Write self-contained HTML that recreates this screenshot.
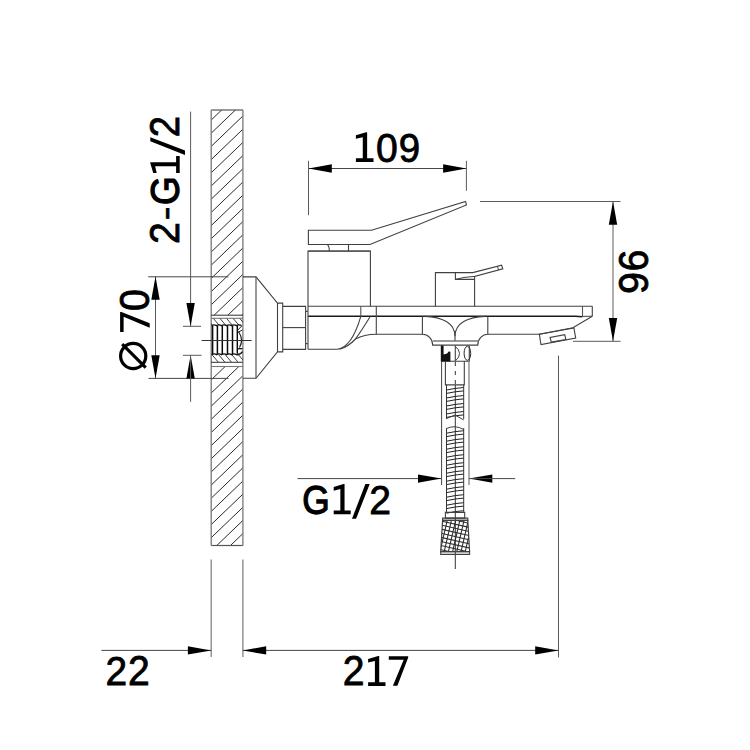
<!DOCTYPE html>
<html><head><meta charset="utf-8"><style>
html,body{margin:0;padding:0;background:#fff;}
svg{display:block;}
text{font-family:"Liberation Sans",sans-serif;fill:#000;}
</style></head><body>
<svg width="750" height="750" viewBox="0 0 750 750">
<rect width="750" height="750" fill="#fff"/>
<defs>
<clipPath id="wallTop"><rect x="211.2" y="110.0" width="31.700000000000017" height="205.2"/></clipPath>
<clipPath id="wallBot"><rect x="211.2" y="366.5" width="31.700000000000017" height="179.0"/></clipPath>
<clipPath id="bandA"><rect x="211.2" y="318.3" width="31.7" height="7.2"/></clipPath>
<clipPath id="bandB"><rect x="211.2" y="354.8" width="31.7" height="7.5"/></clipPath>
</defs>
<g clip-path="url(#wallTop)">
<line x1="211.2" y1="80.40" x2="244.9" y2="48.05" stroke="#2a2a2a" stroke-width="1"/>
<line x1="211.2" y1="93.60" x2="244.9" y2="61.25" stroke="#2a2a2a" stroke-width="1"/>
<line x1="211.2" y1="106.80" x2="244.9" y2="74.45" stroke="#2a2a2a" stroke-width="1"/>
<line x1="211.2" y1="120.00" x2="244.9" y2="87.65" stroke="#2a2a2a" stroke-width="1"/>
<line x1="211.2" y1="133.20" x2="244.9" y2="100.85" stroke="#2a2a2a" stroke-width="1"/>
<line x1="211.2" y1="146.40" x2="244.9" y2="114.05" stroke="#2a2a2a" stroke-width="1"/>
<line x1="211.2" y1="159.60" x2="244.9" y2="127.25" stroke="#2a2a2a" stroke-width="1"/>
<line x1="211.2" y1="172.80" x2="244.9" y2="140.45" stroke="#2a2a2a" stroke-width="1"/>
<line x1="211.2" y1="186.00" x2="244.9" y2="153.65" stroke="#2a2a2a" stroke-width="1"/>
<line x1="211.2" y1="199.20" x2="244.9" y2="166.85" stroke="#2a2a2a" stroke-width="1"/>
<line x1="211.2" y1="212.40" x2="244.9" y2="180.05" stroke="#2a2a2a" stroke-width="1"/>
<line x1="211.2" y1="225.60" x2="244.9" y2="193.25" stroke="#2a2a2a" stroke-width="1"/>
<line x1="211.2" y1="238.80" x2="244.9" y2="206.45" stroke="#2a2a2a" stroke-width="1"/>
<line x1="211.2" y1="252.00" x2="244.9" y2="219.65" stroke="#2a2a2a" stroke-width="1"/>
<line x1="211.2" y1="265.20" x2="244.9" y2="232.85" stroke="#2a2a2a" stroke-width="1"/>
<line x1="211.2" y1="278.40" x2="244.9" y2="246.05" stroke="#2a2a2a" stroke-width="1"/>
<line x1="211.2" y1="291.60" x2="244.9" y2="259.25" stroke="#2a2a2a" stroke-width="1"/>
<line x1="211.2" y1="304.80" x2="244.9" y2="272.45" stroke="#2a2a2a" stroke-width="1"/>
<line x1="211.2" y1="318.00" x2="244.9" y2="285.65" stroke="#2a2a2a" stroke-width="1"/>
<line x1="211.2" y1="331.20" x2="244.9" y2="298.85" stroke="#2a2a2a" stroke-width="1"/>
<line x1="211.2" y1="344.40" x2="244.9" y2="312.05" stroke="#2a2a2a" stroke-width="1"/>
</g>
<g clip-path="url(#wallBot)">
<line x1="211.2" y1="340.45" x2="244.9" y2="308.10" stroke="#2a2a2a" stroke-width="1"/>
<line x1="211.2" y1="353.60" x2="244.9" y2="321.25" stroke="#2a2a2a" stroke-width="1"/>
<line x1="211.2" y1="366.75" x2="244.9" y2="334.40" stroke="#2a2a2a" stroke-width="1"/>
<line x1="211.2" y1="379.90" x2="244.9" y2="347.55" stroke="#2a2a2a" stroke-width="1"/>
<line x1="211.2" y1="393.05" x2="244.9" y2="360.70" stroke="#2a2a2a" stroke-width="1"/>
<line x1="211.2" y1="406.20" x2="244.9" y2="373.85" stroke="#2a2a2a" stroke-width="1"/>
<line x1="211.2" y1="419.35" x2="244.9" y2="387.00" stroke="#2a2a2a" stroke-width="1"/>
<line x1="211.2" y1="432.50" x2="244.9" y2="400.15" stroke="#2a2a2a" stroke-width="1"/>
<line x1="211.2" y1="445.65" x2="244.9" y2="413.30" stroke="#2a2a2a" stroke-width="1"/>
<line x1="211.2" y1="458.80" x2="244.9" y2="426.45" stroke="#2a2a2a" stroke-width="1"/>
<line x1="211.2" y1="471.95" x2="244.9" y2="439.60" stroke="#2a2a2a" stroke-width="1"/>
<line x1="211.2" y1="485.10" x2="244.9" y2="452.75" stroke="#2a2a2a" stroke-width="1"/>
<line x1="211.2" y1="498.25" x2="244.9" y2="465.90" stroke="#2a2a2a" stroke-width="1"/>
<line x1="211.2" y1="511.40" x2="244.9" y2="479.05" stroke="#2a2a2a" stroke-width="1"/>
<line x1="211.2" y1="524.55" x2="244.9" y2="492.20" stroke="#2a2a2a" stroke-width="1"/>
<line x1="211.2" y1="537.70" x2="244.9" y2="505.35" stroke="#2a2a2a" stroke-width="1"/>
<line x1="211.2" y1="550.85" x2="244.9" y2="518.50" stroke="#2a2a2a" stroke-width="1"/>
<line x1="211.2" y1="564.00" x2="244.9" y2="531.65" stroke="#2a2a2a" stroke-width="1"/>
<line x1="211.2" y1="577.15" x2="244.9" y2="544.80" stroke="#2a2a2a" stroke-width="1"/>
</g>
<line x1="211.20" y1="110.00" x2="242.90" y2="110.00" stroke="#555" stroke-width="1.2" />
<line x1="211.20" y1="545.50" x2="242.90" y2="545.50" stroke="#555" stroke-width="1.2" />
<line x1="211.20" y1="110.00" x2="211.20" y2="545.50" stroke="#777" stroke-width="1.3" />
<line x1="242.90" y1="110.00" x2="242.90" y2="545.50" stroke="#777" stroke-width="1.3" />
<line x1="211.20" y1="315.20" x2="242.90" y2="315.20" stroke="#404040" stroke-width="1.1" />
<line x1="211.20" y1="318.30" x2="242.90" y2="318.30" stroke="#777" stroke-width="1.1" />
<line x1="211.20" y1="362.30" x2="242.90" y2="362.30" stroke="#404040" stroke-width="1.1" />
<line x1="211.20" y1="366.50" x2="242.90" y2="366.50" stroke="#777" stroke-width="1.1" />
<g clip-path="url(#bandA)">
<line x1="206.7" y1="318.3" x2="212.7" y2="325.5" stroke="#404040" stroke-width="1"/>
<line x1="213.3" y1="318.3" x2="219.3" y2="325.5" stroke="#404040" stroke-width="1"/>
<line x1="219.9" y1="318.3" x2="225.9" y2="325.5" stroke="#404040" stroke-width="1"/>
<line x1="226.5" y1="318.3" x2="232.5" y2="325.5" stroke="#404040" stroke-width="1"/>
<line x1="233.1" y1="318.3" x2="239.1" y2="325.5" stroke="#404040" stroke-width="1"/>
<line x1="239.7" y1="318.3" x2="245.7" y2="325.5" stroke="#404040" stroke-width="1"/>
</g><g clip-path="url(#bandB)">
<line x1="205.5" y1="354.8" x2="211.8" y2="362.3" stroke="#404040" stroke-width="1"/>
<line x1="212.1" y1="354.8" x2="218.4" y2="362.3" stroke="#404040" stroke-width="1"/>
<line x1="218.7" y1="354.8" x2="225.0" y2="362.3" stroke="#404040" stroke-width="1"/>
<line x1="225.3" y1="354.8" x2="231.60000000000002" y2="362.3" stroke="#404040" stroke-width="1"/>
<line x1="231.9" y1="354.8" x2="238.20000000000002" y2="362.3" stroke="#404040" stroke-width="1"/>
<line x1="238.5" y1="354.8" x2="244.8" y2="362.3" stroke="#404040" stroke-width="1"/>
</g>
<path d="M211.5,325.6 Q214.0,324.2 216.5,325.6 Q219.0,324.2 221.5,325.6 Q224.0,324.2 226.5,325.6 Q229.0,324.2 231.5,325.6 Q234.0,324.2 236.5,325.6 Q239.0,324.2 241.5,325.6" stroke="#111" stroke-width="1.4" fill="none" />
<path d="M211.5,354.6 Q214.0,353.2 216.5,354.6 Q219.0,353.2 221.5,354.6 Q224.0,353.2 226.5,354.6 Q229.0,353.2 231.5,354.6 Q234.0,353.2 236.5,354.6 L237,354.8 Q241,354.5 242.5,351.5" stroke="#111" stroke-width="1.4" fill="none" />
<line x1="212.60" y1="325.60" x2="212.60" y2="354.50" stroke="#0a0a0a" stroke-width="1.5" />
<line x1="217.40" y1="325.60" x2="217.40" y2="354.50" stroke="#0a0a0a" stroke-width="1.5" />
<line x1="222.30" y1="325.60" x2="222.30" y2="354.50" stroke="#0a0a0a" stroke-width="1.5" />
<line x1="227.50" y1="325.60" x2="227.50" y2="354.50" stroke="#0a0a0a" stroke-width="1.5" />
<line x1="232.50" y1="325.60" x2="232.50" y2="354.50" stroke="#0a0a0a" stroke-width="1.5" />
<line x1="237.30" y1="325.80" x2="237.30" y2="353.80" stroke="#0a0a0a" stroke-width="1.4" />
<path d="M237.3,330.5 L242,325.8" stroke="#222" stroke-width="1" fill="none" />
<path d="M238,332.3 L242.3,330" stroke="#222" stroke-width="1" fill="none" />
<path d="M238.5,331.5 Q244,340 239.5,347.5" stroke="#222" stroke-width="1.2" fill="none" />
<line x1="237.30" y1="348.70" x2="242.50" y2="348.70" stroke="#111" stroke-width="1.3" />
<line x1="201.60" y1="340.50" x2="251.60" y2="340.50" stroke="#333" stroke-width="1" />
<path d="M242.9,276.9 L256,276.9 L277.5,303.1 L277.5,351.9 L256,378.3 L242.9,378.3" stroke="#404040" stroke-width="1.1" fill="none" />
<line x1="256.00" y1="276.90" x2="256.00" y2="378.30" stroke="#555" stroke-width="1.2" />
<path d="M277.5,303.1 L282.7,303.1 L282.7,351.9 L277.5,351.9" stroke="#404040" stroke-width="1.1" fill="none" />
<path d="M282.7,306.4 L305.6,306.4 L305.6,349.4 L282.7,349.4" stroke="#404040" stroke-width="1.1" fill="none" />
<line x1="282.70" y1="327.60" x2="305.60" y2="327.60" stroke="#404040" stroke-width="1.1" />
<line x1="305.60" y1="311.40" x2="307.80" y2="311.40" stroke="#404040" stroke-width="1.2" />
<line x1="305.60" y1="343.60" x2="307.80" y2="343.60" stroke="#404040" stroke-width="1.2" />
<path d="M308,306.2 L308,251.1 L370.4,251.1 L370.4,306.2" stroke="#404040" stroke-width="1.1" fill="none" />
<line x1="308.00" y1="251.10" x2="370.40" y2="251.10" stroke="#555" stroke-width="1.4" />
<path d="M327.2,244.4 Q329.3,246 329.3,251.1" stroke="#404040" stroke-width="1.1" fill="none" />
<line x1="348.50" y1="244.40" x2="348.50" y2="251.10" stroke="#404040" stroke-width="1.1" />
<path d="M308.4,230.3 L371.5,230.3 L465.6,201.5 L466.4,205 L370,244.5 L308.4,244.5 Z" stroke="#404040" stroke-width="1.1" fill="none" />
<line x1="308.00" y1="306.20" x2="592.30" y2="306.20" stroke="#404040" stroke-width="1.1" />
<path d="M308,316.3 L574.8,316.3 Q579,316.3 582.5,316.8" stroke="#1a1a1a" stroke-width="1.6" fill="none" />
<line x1="582.50" y1="316.40" x2="592.30" y2="316.20" stroke="#404040" stroke-width="1.0" />
<line x1="592.30" y1="306.20" x2="592.30" y2="316.20" stroke="#404040" stroke-width="1.1" />
<line x1="582.50" y1="306.20" x2="582.50" y2="316.20" stroke="#555" stroke-width="1.1" />
<line x1="360.80" y1="306.20" x2="360.80" y2="316.20" stroke="#555" stroke-width="1.1" />
<line x1="376.30" y1="306.20" x2="376.30" y2="334.30" stroke="#444" stroke-width="1.1" />
<line x1="308.00" y1="306.20" x2="308.00" y2="349.30" stroke="#404040" stroke-width="1.1" />
<path d="M308,349.3 L337.3,349.3 Q352,347 360.8,316.3" stroke="#404040" stroke-width="1.1" fill="none" />
<path d="M339.5,349.3 Q348,347 355.5,339 Q362,330 370.4,316.3" stroke="#404040" stroke-width="1.1" fill="none" />
<path d="M355.5,339 Q364,334.5 376.3,334.3 L422.4,334.3" stroke="#404040" stroke-width="1.1" fill="none" />
<path d="M422.4,316.2 L422.4,334.3 A10.2,10.8 0 0 1 432.6,345.1 L477.8,345.1 A10,10.8 0 0 1 487.8,334.3 L487.8,316.2" stroke="#404040" stroke-width="1.1" fill="none" />
<line x1="432.60" y1="340.90" x2="478.30" y2="340.90" stroke="#777" stroke-width="1.5" />
<path d="M424.7,316.4 C442,317 455,323 455,336.3 L455,340.8" stroke="#404040" stroke-width="1.1" fill="none" />
<path d="M485.5,316.4 C468,317 455,323 455,336.3" stroke="#404040" stroke-width="1.1" fill="none" />
<path d="M487.8,334.3 L539.8,334.3" stroke="#404040" stroke-width="1.1" fill="none" />
<path d="M592.3,316.2 L572.9,327.8 Q555,331.5 539.5,334.2" stroke="#404040" stroke-width="1.1" fill="none" />
<path d="M539.3,334.2 L541,344.5 L575.7,338.1 L573.9,327.9 Z" stroke="#404040" stroke-width="1.1" fill="none" />
<path d="M550.1,337.5 L551.3,342.1 L565.9,339.6 L564.7,334.7 Z" stroke="#404040" stroke-width="1.1" fill="none" />
<path d="M435.4,306.2 L435.4,272.6 L472.8,272.6 L501.6,265.2 L502.8,268.8 L474.6,276.4 L474.6,306.2" stroke="#404040" stroke-width="1.1" fill="none" />
<path d="M455.4,272.6 L455.4,279.4 L474.6,279.4" stroke="#404040" stroke-width="1.1" fill="none" />
<path d="M455.4,279.4 Q463,277 474.6,276.4" stroke="#404040" stroke-width="1.0" fill="none" />
<line x1="497.40" y1="266.40" x2="498.60" y2="270.00" stroke="#404040" stroke-width="1.0" />
<path d="M441.3,345.4 L441.3,361.3 L469.3,361.3 L469.3,345.4" stroke="#404040" stroke-width="1.1" fill="none" />
<polygon points="441.00,345.60 443.60,345.60 443.60,354.50 447.00,353.50 449.00,351.30 450.40,352.00 450.40,361.50 441.00,361.50" fill="#111"/>
<line x1="455.30" y1="345.40" x2="455.30" y2="361.30" stroke="#404040" stroke-width="1.1" />
<path d="M455.3,346.3 Q463.5,353.5 455.8,360.5" stroke="#404040" stroke-width="1.0" fill="none" />
<ellipse cx="467.4" cy="353.3" rx="3.3" ry="7" stroke="#2a2a2a" stroke-width="1" fill="none"/>
<line x1="441.60" y1="361.30" x2="441.60" y2="485.10" stroke="#444" stroke-width="1.0" />
<line x1="469.00" y1="361.30" x2="469.00" y2="485.10" stroke="#777" stroke-width="1.2" />
<path d="M445.4,361.3 L445.4,384.9 L464.3,384.9 L464.3,361.3" stroke="#404040" stroke-width="1.1" fill="none" />
<line x1="455.3" y1="362" x2="455.3" y2="384.5" stroke="#333" stroke-width="1" stroke-dasharray="4,5"/>
<line x1="455.30" y1="384.90" x2="455.30" y2="569.00" stroke="#333" stroke-width="1.0" />
<path d="M446.5,390.00 Q455.1,388.10 463.7,387.50" stroke="#222" stroke-width="1.0" fill="none" />
<path d="M446.5,393.40 Q455.1,391.50 463.7,390.90" stroke="#222" stroke-width="1.0" fill="none" />
<path d="M446.5,398.00 Q455.1,396.10 463.7,395.50" stroke="#222" stroke-width="1.0" fill="none" />
<path d="M446.5,401.40 Q455.1,399.50 463.7,398.90" stroke="#222" stroke-width="1.0" fill="none" />
<path d="M446.5,406.00 Q455.1,404.10 463.7,403.50" stroke="#222" stroke-width="1.0" fill="none" />
<path d="M446.5,409.40 Q455.1,407.50 463.7,406.90" stroke="#222" stroke-width="1.0" fill="none" />
<path d="M446.5,414.00 Q455.1,412.10 463.7,411.50" stroke="#222" stroke-width="1.0" fill="none" />
<path d="M446.5,417.40 Q455.1,415.50 463.7,414.90" stroke="#222" stroke-width="1.0" fill="none" />
<line x1="446.50" y1="384.90" x2="446.50" y2="419.00" stroke="#333" stroke-width="1.0" />
<line x1="463.70" y1="384.90" x2="463.70" y2="419.00" stroke="#333" stroke-width="1.0" />
<path d="M446.5,433.20 Q455.1,431.30 463.7,430.70" stroke="#222" stroke-width="1.0" fill="none" />
<path d="M446.5,436.60 Q455.1,434.70 463.7,434.10" stroke="#222" stroke-width="1.0" fill="none" />
<path d="M446.5,441.20 Q455.1,439.30 463.7,438.70" stroke="#222" stroke-width="1.0" fill="none" />
<path d="M446.5,444.60 Q455.1,442.70 463.7,442.10" stroke="#222" stroke-width="1.0" fill="none" />
<path d="M446.5,449.20 Q455.1,447.30 463.7,446.70" stroke="#222" stroke-width="1.0" fill="none" />
<path d="M446.5,452.60 Q455.1,450.70 463.7,450.10" stroke="#222" stroke-width="1.0" fill="none" />
<path d="M446.5,457.20 Q455.1,455.30 463.7,454.70" stroke="#222" stroke-width="1.0" fill="none" />
<path d="M446.5,460.60 Q455.1,458.70 463.7,458.10" stroke="#222" stroke-width="1.0" fill="none" />
<path d="M446.5,465.20 Q455.1,463.30 463.7,462.70" stroke="#222" stroke-width="1.0" fill="none" />
<path d="M446.5,468.60 Q455.1,466.70 463.7,466.10" stroke="#222" stroke-width="1.0" fill="none" />
<path d="M446.5,473.20 Q455.1,471.30 463.7,470.70" stroke="#222" stroke-width="1.0" fill="none" />
<path d="M446.5,476.60 Q455.1,474.70 463.7,474.10" stroke="#222" stroke-width="1.0" fill="none" />
<path d="M446.5,481.20 Q455.1,479.30 463.7,478.70" stroke="#222" stroke-width="1.0" fill="none" />
<path d="M446.5,484.60 Q455.1,482.70 463.7,482.10" stroke="#222" stroke-width="1.0" fill="none" />
<path d="M446.5,489.20 Q455.1,487.30 463.7,486.70" stroke="#222" stroke-width="1.0" fill="none" />
<path d="M446.5,492.60 Q455.1,490.70 463.7,490.10" stroke="#222" stroke-width="1.0" fill="none" />
<path d="M446.5,497.20 Q455.1,495.30 463.7,494.70" stroke="#222" stroke-width="1.0" fill="none" />
<path d="M446.5,500.60 Q455.1,498.70 463.7,498.10" stroke="#222" stroke-width="1.0" fill="none" />
<path d="M446.5,505.20 Q455.1,503.30 463.7,502.70" stroke="#222" stroke-width="1.0" fill="none" />
<path d="M446.5,508.60 Q455.1,506.70 463.7,506.10" stroke="#222" stroke-width="1.0" fill="none" />
<path d="M446.5,513.20 Q455.1,511.30 463.7,510.70" stroke="#222" stroke-width="1.0" fill="none" />
<line x1="446.50" y1="428.10" x2="446.50" y2="512.40" stroke="#333" stroke-width="1.0" />
<line x1="463.70" y1="428.10" x2="463.70" y2="512.40" stroke="#333" stroke-width="1.0" />
<path d="M446.5,428.5 Q455,424.5 463.7,429.5" stroke="#404040" stroke-width="1.0" fill="none" />
<path d="M446.5,418.5 L455,415 L463.7,420" stroke="#404040" stroke-width="1.0" fill="none" />
<path d="M445.4,512.4 L445.4,518.1 L464.7,518.1 L464.7,512.4 Z" stroke="#404040" stroke-width="1.1" fill="none" />
<path d="M442.6,518.1 L467.8,518.1 L467.8,520.4 L442.6,520.4 Z" stroke="#404040" stroke-width="1.1" fill="none" />
<defs><clipPath id="knurl"><polygon points="442.6,520.4 467.8,520.4 469.6,551.6 440.7,551.6"/></clipPath></defs>
<g clip-path="url(#knurl)"><g transform="rotate(13 455.2 536)">
<line x1="423.40" y1="505" x2="423.40" y2="567" stroke="#2a2a2a" stroke-width="1.05"/>
<line x1="427.50" y1="505" x2="427.50" y2="567" stroke="#2a2a2a" stroke-width="1.05"/>
<line x1="431.60" y1="505" x2="431.60" y2="567" stroke="#2a2a2a" stroke-width="1.05"/>
<line x1="435.70" y1="505" x2="435.70" y2="567" stroke="#2a2a2a" stroke-width="1.05"/>
<line x1="439.80" y1="505" x2="439.80" y2="567" stroke="#2a2a2a" stroke-width="1.05"/>
<line x1="443.90" y1="505" x2="443.90" y2="567" stroke="#2a2a2a" stroke-width="1.05"/>
<line x1="448.00" y1="505" x2="448.00" y2="567" stroke="#2a2a2a" stroke-width="1.05"/>
<line x1="452.10" y1="505" x2="452.10" y2="567" stroke="#2a2a2a" stroke-width="1.05"/>
<line x1="456.20" y1="505" x2="456.20" y2="567" stroke="#2a2a2a" stroke-width="1.05"/>
<line x1="460.30" y1="505" x2="460.30" y2="567" stroke="#2a2a2a" stroke-width="1.05"/>
<line x1="464.40" y1="505" x2="464.40" y2="567" stroke="#2a2a2a" stroke-width="1.05"/>
<line x1="468.50" y1="505" x2="468.50" y2="567" stroke="#2a2a2a" stroke-width="1.05"/>
<line x1="472.60" y1="505" x2="472.60" y2="567" stroke="#2a2a2a" stroke-width="1.05"/>
<line x1="476.70" y1="505" x2="476.70" y2="567" stroke="#2a2a2a" stroke-width="1.05"/>
<line x1="480.80" y1="505" x2="480.80" y2="567" stroke="#2a2a2a" stroke-width="1.05"/>
<line x1="484.90" y1="505" x2="484.90" y2="567" stroke="#2a2a2a" stroke-width="1.05"/>
<line x1="489.00" y1="505" x2="489.00" y2="567" stroke="#2a2a2a" stroke-width="1.05"/>
<line x1="425" y1="500.50" x2="485" y2="500.50" stroke="#2a2a2a" stroke-width="1.05"/>
<line x1="425" y1="504.50" x2="485" y2="504.50" stroke="#2a2a2a" stroke-width="1.05"/>
<line x1="425" y1="508.50" x2="485" y2="508.50" stroke="#2a2a2a" stroke-width="1.05"/>
<line x1="425" y1="512.50" x2="485" y2="512.50" stroke="#2a2a2a" stroke-width="1.05"/>
<line x1="425" y1="516.50" x2="485" y2="516.50" stroke="#2a2a2a" stroke-width="1.05"/>
<line x1="425" y1="520.50" x2="485" y2="520.50" stroke="#2a2a2a" stroke-width="1.05"/>
<line x1="425" y1="524.50" x2="485" y2="524.50" stroke="#2a2a2a" stroke-width="1.05"/>
<line x1="425" y1="528.50" x2="485" y2="528.50" stroke="#2a2a2a" stroke-width="1.05"/>
<line x1="425" y1="532.50" x2="485" y2="532.50" stroke="#2a2a2a" stroke-width="1.05"/>
<line x1="425" y1="536.50" x2="485" y2="536.50" stroke="#2a2a2a" stroke-width="1.05"/>
<line x1="425" y1="540.50" x2="485" y2="540.50" stroke="#2a2a2a" stroke-width="1.05"/>
<line x1="425" y1="544.50" x2="485" y2="544.50" stroke="#2a2a2a" stroke-width="1.05"/>
<line x1="425" y1="548.50" x2="485" y2="548.50" stroke="#2a2a2a" stroke-width="1.05"/>
<line x1="425" y1="552.50" x2="485" y2="552.50" stroke="#2a2a2a" stroke-width="1.05"/>
<line x1="425" y1="556.50" x2="485" y2="556.50" stroke="#2a2a2a" stroke-width="1.05"/>
<line x1="425" y1="560.50" x2="485" y2="560.50" stroke="#2a2a2a" stroke-width="1.05"/>
<line x1="425" y1="564.50" x2="485" y2="564.50" stroke="#2a2a2a" stroke-width="1.05"/>
<line x1="425" y1="568.50" x2="485" y2="568.50" stroke="#2a2a2a" stroke-width="1.05"/>
<line x1="425" y1="572.50" x2="485" y2="572.50" stroke="#2a2a2a" stroke-width="1.05"/>
</g></g>
<path d="M442.6,520.4 L467.8,520.4 L469.6,551.6 L440.7,551.6 Z" stroke="#404040" stroke-width="1.2" fill="none" />
<path d="M440.7,551.6 L469.6,551.6 L469.6,554.4 L440.7,554.4 Z" stroke="#404040" stroke-width="1.1" fill="none" />
<line x1="308.50" y1="168.50" x2="466.40" y2="168.50" stroke="#474747" stroke-width="1.0" />
<polygon points="308.50,168.50 331.80,164.30 331.80,172.70" fill="#000"/>
<polygon points="466.40,168.50 443.10,172.70 443.10,164.30" fill="#000"/>
<line x1="308.50" y1="160.80" x2="308.50" y2="215.20" stroke="#5a5a5a" stroke-width="1.0" />
<line x1="466.40" y1="160.80" x2="466.40" y2="190.80" stroke="#5a5a5a" stroke-width="1.0" />
<line x1="613.00" y1="201.50" x2="613.00" y2="341.30" stroke="#8a8a8a" stroke-width="1.4" />
<polygon points="613.00,201.50 617.20,224.80 608.80,224.80" fill="#000"/>
<polygon points="613.00,341.30 608.80,318.00 617.20,318.00" fill="#000"/>
<line x1="480.00" y1="201.50" x2="620.50" y2="201.50" stroke="#5a5a5a" stroke-width="1.0" />
<line x1="572.90" y1="341.30" x2="620.50" y2="341.30" stroke="#5a5a5a" stroke-width="1.0" />
<line x1="155.50" y1="276.40" x2="155.50" y2="378.50" stroke="#5a5a5a" stroke-width="1.0" />
<polygon points="155.50,276.40 159.70,299.70 151.30,299.70" fill="#000"/>
<polygon points="155.50,378.50 151.30,355.20 159.70,355.20" fill="#000"/>
<line x1="148.20" y1="276.80" x2="228.40" y2="276.80" stroke="#474747" stroke-width="1.0" />
<line x1="148.50" y1="378.40" x2="228.40" y2="378.40" stroke="#474747" stroke-width="1.0" />
<line x1="190.60" y1="111.60" x2="190.60" y2="326.30" stroke="#5a5a5a" stroke-width="1.0" />
<polygon points="190.60,326.30 186.40,303.00 194.80,303.00" fill="#000"/>
<line x1="183.00" y1="326.30" x2="201.00" y2="326.30" stroke="#5a5a5a" stroke-width="1.0" />
<line x1="183.00" y1="355.30" x2="201.50" y2="355.30" stroke="#5a5a5a" stroke-width="1.0" />
<polygon points="190.60,355.30 194.80,378.60 186.40,378.60" fill="#000"/>
<line x1="190.60" y1="355.30" x2="190.60" y2="401.80" stroke="#5a5a5a" stroke-width="1.0" />
<line x1="297.50" y1="478.60" x2="441.30" y2="478.60" stroke="#474747" stroke-width="1.0" />
<polygon points="441.30,478.60 418.00,482.80 418.00,474.40" fill="#000"/>
<polygon points="469.00,478.60 492.30,474.40 492.30,482.80" fill="#000"/>
<line x1="469.00" y1="478.60" x2="515.20" y2="478.60" stroke="#474747" stroke-width="1.0" />
<line x1="211.20" y1="559.40" x2="211.20" y2="657.00" stroke="#7a7a7a" stroke-width="1.2" />
<line x1="242.90" y1="559.40" x2="242.90" y2="657.00" stroke="#7a7a7a" stroke-width="1.2" />
<line x1="101.40" y1="650.40" x2="211.20" y2="650.40" stroke="#474747" stroke-width="1.0" />
<polygon points="211.20,650.40 187.90,654.60 187.90,646.20" fill="#000"/>
<line x1="242.90" y1="650.40" x2="558.50" y2="650.40" stroke="#474747" stroke-width="1.0" />
<polygon points="242.90,650.40 266.20,646.20 266.20,654.60" fill="#000"/>
<polygon points="558.50,650.40 535.20,654.60 535.20,646.20" fill="#000"/>
<line x1="558.50" y1="355.60" x2="558.50" y2="657.40" stroke="#5a5a5a" stroke-width="1.0" />
<polygon points="355.90,135.26 366.11,132.30 367.13,132.30 367.13,158.29 373.50,158.29 373.50,161.90 355.90,161.90 355.90,158.29 362.78,158.29 362.78,137.18 355.90,138.75" fill="#000"/>
<text transform="matrix(0.39162,0,0,0.41555,376.034,161.584)" font-size="100" stroke="#000" stroke-width="0.8" vector-effect="non-scaling-stroke">0</text>
<text transform="matrix(0.38486,0,0,0.41413,398.672,161.586)" font-size="100" stroke="#000" stroke-width="0.8" vector-effect="non-scaling-stroke">9</text>
<text transform="matrix(0.38901,0,0,0.41577,105.555,685.400)" font-size="100" stroke="#000" stroke-width="0.8" vector-effect="non-scaling-stroke">2</text>
<text transform="matrix(0.39121,0,0,0.41577,128.044,685.400)" font-size="100" stroke="#000" stroke-width="0.8" vector-effect="non-scaling-stroke">2</text>
<text transform="matrix(0.39121,0,0,0.41720,342.744,685.400)" font-size="100" stroke="#000" stroke-width="0.8" vector-effect="non-scaling-stroke">2</text>
<polygon points="368.10,659.08 378.19,656.10 379.20,656.10 379.20,682.26 385.50,682.26 385.50,685.90 368.10,685.90 368.10,682.26 374.90,682.26 374.90,661.02 368.10,662.60" fill="#000"/>
<polygon points="388.80,656.30 408.20,656.30 408.20,657.62 397.39,685.70 392.89,685.70 403.70,659.80 388.80,659.80" fill="#000"/>
<text transform="matrix(0.35249,0,0,0.41555,302.338,513.684)" font-size="100" stroke="#000" stroke-width="1.2" vector-effect="non-scaling-stroke">G</text>
<polygon points="333.70,487.12 343.56,484.10 344.55,484.10 344.55,510.62 350.70,510.62 350.70,514.30 333.70,514.30 333.70,510.62 340.35,510.62 340.35,489.08 333.70,490.68" fill="#000"/>
<polygon points="352.00,518.70 356.10,518.70 369.70,484.00 365.40,484.00" fill="#000"/>
<text transform="matrix(0.39121,0,0,0.41290,369.144,513.500)" font-size="100" stroke="#000" stroke-width="0.8" vector-effect="non-scaling-stroke">2</text>
<text transform="matrix(0,-0.39341,0.41720,0,179.400,243.967)" font-size="100" stroke="#000" stroke-width="0.8" vector-effect="non-scaling-stroke">2</text>
<text transform="matrix(0,-0.41237,0.35000,0,177.275,220.156)" font-size="100" stroke="#000" stroke-width="0.8" vector-effect="non-scaling-stroke">-</text>
<text transform="matrix(0,-0.36935,0.41131,0,179.089,204.947)" font-size="100" stroke="#000" stroke-width="1.2" vector-effect="non-scaling-stroke">G</text>
<polygon points="153.24,173.00 150.30,163.14 150.30,162.15 176.11,162.15 176.11,156.00 179.70,156.00 179.70,173.00 176.11,173.00 176.11,166.35 155.15,166.35 156.71,173.00" fill="#000"/>
<polygon points="150.30,137.20 150.30,141.30 185.00,155.00 185.00,150.60" fill="#000"/>
<text transform="matrix(0,-0.38242,0.41720,0,179.400,137.312)" font-size="100" stroke="#000" stroke-width="0.8" vector-effect="non-scaling-stroke">2</text>
<text transform="matrix(0,-0.39568,0.41837,0,647.982,293.979)" font-size="100" stroke="#000" stroke-width="0.8" vector-effect="non-scaling-stroke">9</text>
<text transform="matrix(0,-0.38703,0.41837,0,647.982,271.135)" font-size="100" stroke="#000" stroke-width="0.8" vector-effect="non-scaling-stroke">6</text>
<polygon points="120.10,331.90 120.10,312.10 121.43,312.10 149.70,323.13 149.70,327.72 123.62,316.69 123.62,331.90" fill="#000"/>
<text transform="matrix(0,-0.39372,0.41696,0,148.883,310.875)" font-size="100" stroke="#000" stroke-width="0.8" vector-effect="non-scaling-stroke">0</text>
<circle cx="133.2" cy="356" r="12.6" stroke="#000" stroke-width="3.2" fill="none"/>
<line x1="122.20" y1="344.20" x2="145.70" y2="367.60" stroke="#000" stroke-width="3.2" />
</svg>
</body></html>
